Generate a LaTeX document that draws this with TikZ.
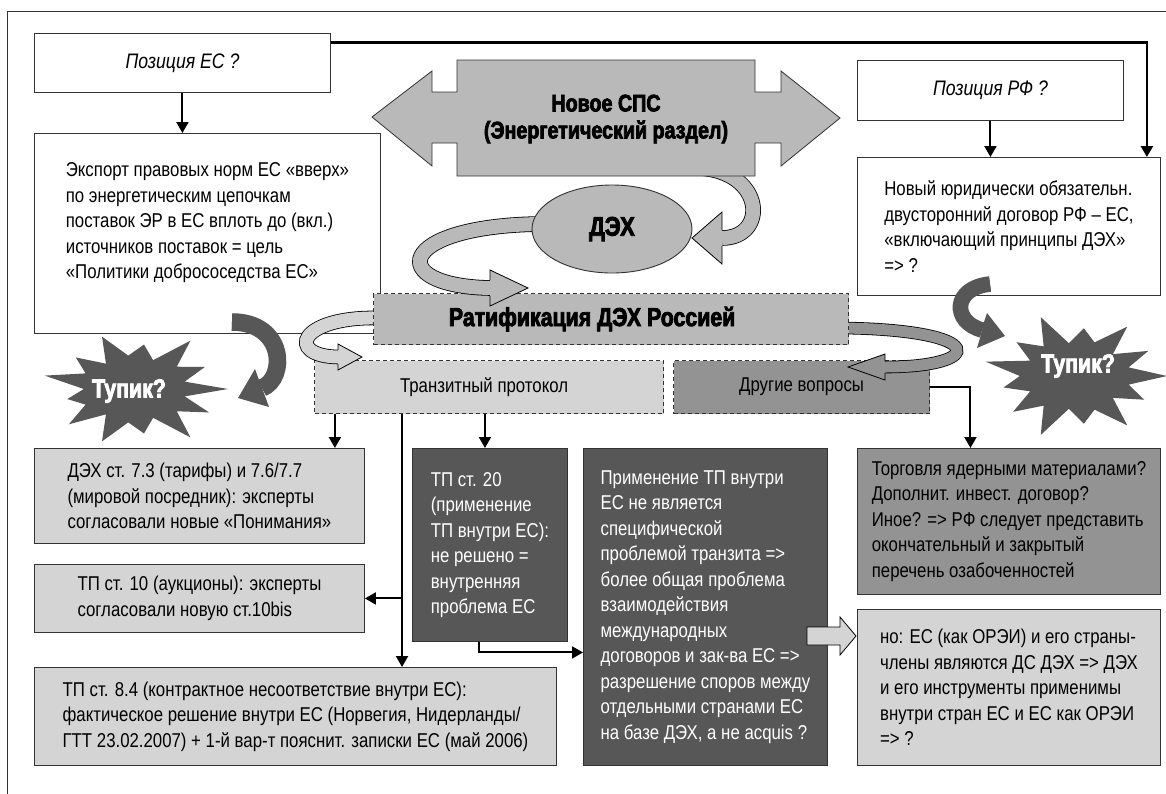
\documentclass[tikz,border=0pt]{standalone}
\usepackage{fontspec}
\setmainfont{Liberation Sans}[FakeStretch=0.84]
\newfontfamily\heavyfont{Liberation Sans}[FakeStretch=0.82,FakeBold=3]
\usetikzlibrary{arrows.meta,shapes.geometric}
\definecolor{grA}{HTML}{D4D4D4}
\definecolor{grB}{HTML}{B9B9B9}
\definecolor{grC}{HTML}{939393}
\definecolor{grD}{HTML}{575757}
\definecolor{edge}{HTML}{333333}
\tikzset{
  body/.style={font=\fontsize{20}{25.5}\selectfont},
  box/.style={body, draw=edge, line width=0.9pt, anchor=north west, inner sep=0pt, align=left},
  dashbox/.style={box, dash pattern=on 4pt off 3pt, line width=1.2pt, align=center},
  heavy/.style={font=\heavyfont\bfseries\fontsize{24}{27}\selectfont},
  conn/.style={line width=2pt, -{Triangle[length=11pt,width=12pt]}},
  ribbon/.style={draw=black, line width=0.8pt, double=#1, double distance=13pt},
  rhead/.style={fill=#1, draw=black, line width=0.8pt},
  tupik/.style={fill=grD}
}
\begin{document}
\begin{tikzpicture}[x=1pt,y=-1pt]
\fill[white] (0,0) rectangle (1166,793);
\useasboundingbox (0,0) rectangle (1166,793);
\draw[edge, line width=1pt] (7,800) -- (7,11) -- (1175,11);

% top row
\node[box, minimum width=296pt, minimum height=59pt, font=\itshape\fontsize{21}{25}\selectfont] (posEU) at (34,33) {Позиция ЕС ?};
\node[box, minimum width=346pt, minimum height=200pt] (export) at (34,133)
  {Экспорт правовых норм ЕС «вверх»\\по энергетическим цепочкам\\поставок ЭР в ЕС вплоть до (вкл.)\\источников поставок = цель\\«Политики добрососедства ЕС»\\\mbox{}};
\node[box, minimum width=266pt, minimum height=60pt, font=\itshape\fontsize{21}{25}\selectfont] (posRF) at (857,60) {Позиция РФ ?};
\node[box, minimum width=303pt, minimum height=138pt] (newtreaty) at (857,157)
  {Новый юридически обязательн.\\двусторонний договор РФ – ЕС,\\«включающий принципы ДЭХ»\\=> ?};
\draw[conn] (posEU.south) -- (posEU.south |- export.north);
\draw[conn, line width=2.5pt] ([yshift=20.5pt]posEU.east) -| ([xshift=-14pt]newtreaty.north east);
\draw[conn] (posRF.south) -- (posRF.south |- newtreaty.north);

% dashed row
\node[dashbox, fill=grA, minimum width=349pt, minimum height=53pt] (transit) at (314,360) {Транзитный протокол\hspace*{10pt}};
\node[dashbox, fill=grC, minimum width=256pt, minimum height=53pt] (other) at (673,360) {Другие вопросы};

% ribbons round the ratification box
\draw[ribbon=grA] (380,318) .. controls (298,316) and (285,356) .. (338,357);
\filldraw[rhead=grA] (338,350) -- (338,344) -- (362,357) -- (338,370) -- (338,364);
\draw[ribbon=grC, double distance=11pt] (843,328) .. controls (990,330) and (985,367) .. (885,367);
\filldraw[rhead=grC] (885,361) -- (885,354) -- (848,367) -- (885,380) -- (885,373);
\node[dashbox, fill=grB, minimum width=475pt, minimum height=51pt, heavy, font=\heavyfont\bfseries\fontsize{26}{28}\selectfont] (rat) at (373,293) {Ратификация ДЭХ Россией\hspace*{38pt}};
\draw[ribbon=grB, double distance=14pt] (540,224) .. controls (395,226) and (385,286) .. (490,288);
\filldraw[rhead=grB] (490,280) -- (490,270) -- (528,288) -- (490,306) -- (490,296);
\node[ellipse, draw=edge, line width=0.9pt, fill=grB, minimum width=160pt, minimum height=88pt, font=\heavyfont\bfseries\fontsize{27}{28}\selectfont] (dex) at (612,229) {ДЭХ};
\draw[ribbon=grB, double distance=14pt] (700,168) .. controls (765,172) and (768,238) .. (722,238);
\filldraw[rhead=grB] (722,230) -- (722,212) -- (692,238) -- (722,264) -- (722,246);

% new PCA
\draw[fill=grB, draw=edge, line width=0.8pt] (372,117) -- (432,71) -- (432,92) -- (457,92) -- (457,60) -- (755,60)
  -- (755,92) -- (781,92) -- (781,71) -- (840,118) -- (781,166) -- (781,143) -- (755,143) -- (755,176)
  -- (457,176) -- (457,143) -- (432,143) -- (432,166) -- cycle;
\node[heavy, align=center] (sps) at (606,119) {Новое СПС\\(Энергетический раздел)};

% dead ends
\draw[ribbon=grD, draw=grD, double distance=16pt] (232,322) .. controls (285,322) and (287,378) .. (262,388);
\fill[tupik] (259,380) -- (255,369) -- (238,398) -- (269,407) -- (265,396) -- cycle;
\begin{scope}[shift={(135,389)}]
\fill[tupik] (0:93 and 56) \foreach \r [count=\i] in {.55,.9,.6,1.05,.55,.8,.6,1.0,.55,.95,.6,.75,.55,1.0,.6,.85,.55,1.0,.6,.8,.55,1.05,.6,.85,.55}
  { -- (\i*360/26:\r*93 and \r*56) } -- cycle;
\end{scope}
\node[heavy, text=white, font=\heavyfont\bfseries\fontsize{26}{28}\selectfont] (tupikL) at (129,391) {Тупик?};

\draw[ribbon=grD, draw=grD, double distance=14pt] (990,284) .. controls (952,288) and (952,322) .. (982,330);
\fill[tupik] (984,322) -- (987,313) -- (1005,336) -- (977,348) -- (980,338) -- cycle;
\begin{scope}[shift={(1075,376)}]
\fill[tupik] (0:92 and 60) \foreach \r [count=\i] in {.6,.85,.55,1.0,.6,.8,.55,1.05,.6,.9,.55,.8,.6,1.0,.55,.85,.6,1.05,.55,.8,.6,1.0,.55,.9,.6}
  { -- (\i*360/26:\r*92 and \r*60) } -- cycle;
\end{scope}
\node[heavy, text=white, font=\heavyfont\bfseries\fontsize{26}{28}\selectfont] (tupikR) at (1078,366) {Тупик?};

% lower boxes
\node[box, fill=grA, minimum width=330pt, minimum height=95pt] (dex73) at (34,448)
  {ДЭХ ст. 7.3 (тарифы) и 7.6/7.7\\(мировой посредник): эксперты\\согласовали новые «Понимания»};
\node[box, fill=grA, minimum width=330pt, minimum height=68pt] (tp10) at (34,564)
  {ТП ст. 10 (аукционы): эксперты\\согласовали новую ст.10bis};
\node[box, fill=grA, minimum width=522pt, minimum height=98pt] (tp84) at (34,667)
  {ТП ст. 8.4 (контрактное несоответствие внутри ЕС):\\фактическое решение внутри ЕС (Норвегия, Нидерланды/\\ГТТ 23.02.2007) + 1-й вар-т пояснит. записки ЕС (май 2006)};
\node[box, fill=grD, text=white, minimum width=155pt, minimum height=193pt] (tp20) at (412,448)
  {ТП ст. 20\\(применение\\ТП внутри ЕС):\\не решено =\\внутренняя\\проблема ЕС};
\node[box, fill=grD, text=white, minimum width=244pt, minimum height=317pt] (apply) at (583,448)
  {Применение ТП внутри\\ЕС не является\\специфической\\проблемой транзита =>\\более общая проблема\\взаимодействия\\международных\\договоров и зак-ва ЕС =>\\разрешение споров между\\отдельными странами ЕС\\на базе ДЭХ, а не acquis ?};
\node[box, fill=grC, minimum width=303pt, minimum height=146pt] (trade) at (857,448)
  {Торговля ядерными материалами?\\Дополнит. инвест. договор?\\Иное? => РФ следует представить\\окончательный и закрытый\\перечень озабоченностей};
\node[box, fill=grA, minimum width=303pt, minimum height=156pt] (but) at (857,609)
  {но: ЕС (как ОРЭИ) и его страны-\\члены являются ДС ДЭХ => ДЭХ\\и его инструменты применимы\\внутри стран ЕС и ЕС как ОРЭИ\\=> ?};
\filldraw[fill=grA, draw=black, line width=0.8pt] (807,627) -- (840,627) -- (840,617) -- (856,636) -- (840,655) -- (840,645) -- (807,645) -- cycle;

% connectors from the protocols
\coordinate (m) at ([xshift=88pt]transit.south west);
\draw[conn] ([xshift=-30pt]dex73.north east |- transit.south) -- ([xshift=-30pt]dex73.north east);
\draw[conn] ([xshift=-5pt]tp20.north |- transit.south) -- ([xshift=-5pt]tp20.north);
\draw[conn] (m) -- (m |- tp84.north);
\draw[conn] (m |- tp10.east) -- (tp10.east);
\draw[conn] ([xshift=-10.5pt]tp20.south) |- ([yshift=-45.5pt]apply.west);
\draw[conn] (other.east) -| ([xshift=-38.5pt]trade.north);
\end{tikzpicture}
\end{document}
